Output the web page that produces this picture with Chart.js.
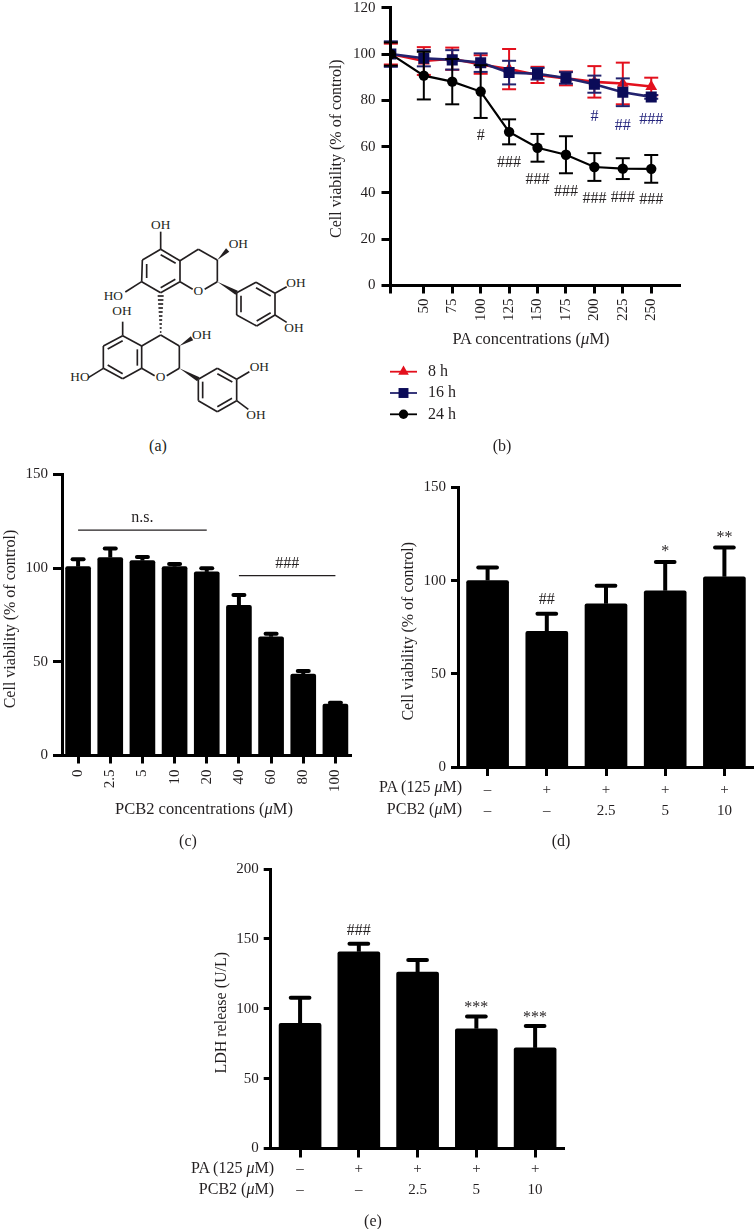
<!DOCTYPE html>
<html>
<head>
<meta charset="utf-8">
<script src="https://cdn.jsdelivr.net/npm/chart.js@4/dist/chart.umd.min.js"></script>
<style>
html,body{margin:0;padding:0;background:#fff;}
body{position:relative;width:754px;height:1229px;overflow:hidden;font-family:"Liberation Serif",serif;color:#231f20;}
canvas{position:absolute;}
.t{position:absolute;white-space:nowrap;font-size:16.5px;line-height:18px;transform:translate(-50%,-50%);}
.c{position:absolute;white-space:nowrap;font-size:16px;line-height:18px;transform:translate(-50%,-50%);}
.r{position:absolute;white-space:nowrap;font-size:16px;line-height:18px;transform:translate(-100%,-50%);}
svg{position:absolute;overflow:visible;}
svg line,svg polyline{stroke:#231f20;stroke-width:5;fill:none;}
svg polygon{fill:#231f20;}
svg text{font-family:"Liberation Serif",serif;font-size:40px;fill:#231f20;text-anchor:middle;dominant-baseline:middle;}
</style>
</head>
<body>
<svg id="structure" style="left:60px;top:190px" width="240" height="240" viewBox="0 0 720 720"></svg>

<canvas id="cb" style="left:320px;top:0px" width="434" height="440"></canvas>
<canvas id="cc" style="left:0px;top:460px" width="370" height="370"></canvas>
<canvas id="cd" style="left:380px;top:470px" width="374" height="370"></canvas>
<canvas id="ce" style="left:200px;top:850px" width="370" height="379"></canvas>

<div class="c" style="left:158px;top:446px">(a)</div>
<div class="t" style="left:531px;top:339px">PA concentrations (<i>μ</i>M)</div>
<div class="c" style="left:502px;top:446px">(b)</div>
<div class="t" style="left:204px;top:809px">PCB2 concentrations (<i>μ</i>M)</div>
<div class="c" style="left:188px;top:841px">(c)</div>
<div class="r" style="left:462px;top:787px">PA (125 <i>μ</i>M)</div>
<div class="r" style="left:462px;top:809px">PCB2 (<i>μ</i>M)</div>
<div class="c" style="left:561px;top:841px">(d)</div>
<div class="r" style="left:274px;top:1168px">PA (125 <i>μ</i>M)</div>
<div class="r" style="left:274px;top:1189px">PCB2 (<i>μ</i>M)</div>
<div class="c" style="left:373px;top:1221px">(e)</div>

<script>
// ---------- Panel b data ----------
const paDoses   = [21, 50, 75, 100, 125, 150, 175, 200, 225, 250];
const viab8h    = [100, 97, 98, 95.5, 93.5, 91, 89.5, 88, 87.3, 86];
const err8h     = [4.5, 6, 4.8, 4, 8.7, 3.5, 3, 6.8, 9, 3.8];
const viab16h   = [100, 98.2, 97.5, 96.3, 92, 91.5, 89.7, 87, 83.5, 81.5];
const err16h    = [5.5, 3.5, 4.2, 4, 5.1, 2.5, 2.5, 3.7, 6, 0.8];
const viab24h   = [100, 90.7, 88.1, 83.8, 66.4, 59.5, 56.5, 51.2, 50.5, 50.4];
const err24h    = [5, 10.3, 9.8, 11.4, 5.4, 6, 8, 6, 4.5, 6];
const marks24h  = ['', '', '', '#', '###', '###', '###', '###', '###', '###'];
const markY24h  = [0, 0, 0, 64.7, 53.2, 45.6, 40.5, 37.3, 37.9, 36.9];
const marks16h  = ['', '', '', '', '', '', '', '#', '##', '###'];
const markY16h  = [0, 0, 0, 0, 0, 0, 0, 73.1, 69.2, 71.4];

// ---------- Panel c data ----------
const pcbDoses  = ['0', '2.5', '5', '10', '20', '40', '60', '80', '100'];
const pcbViab   = [100.8, 105.7, 104, 100.8, 98, 80.1, 63.4, 43.4, 27.4];
const pcbTop    = [104.7, 110.5, 106, 102.2, 99.9, 85.7, 65, 45.1, 28.2];

// ---------- Panel d data ----------
const rowLabels = [['–', '–'], ['+', '–'], ['+', '2.5'], ['+', '5'], ['+', '10']];
const protViab  = [100.1, 72.8, 87.6, 94.6, 102.1];
const protTop   = [107.1, 82.2, 97.3, 110, 117.8];
const protMarks = ['', '##', '', '*', '**'];
const protMarkY = [0, 90, 0, 115.5, 123.2];

// ---------- Panel e data ----------
const ldhVals   = [89.5, 140.8, 126.3, 85.7, 72];
const ldhTop    = [107.9, 146.5, 134.8, 94.5, 87.6];
const ldhMarks  = ['', '###', '', '***', '***'];
const ldhMarkY  = [0, 156, 0, 100.8, 93.6];

// ---------- Styles ----------
const INK = '#231f20', BLACK = '#000000', RED = '#e3101d', NAVY = '#0b0b58', NAVYLINE = '#23236e', MARKNAVY = '#24247c';
const FONT = '"Liberation Serif", serif';
Chart.defaults.font.family = FONT;
Chart.defaults.color = INK;

// Error bars, drawn under each dataset's markers through the chart's scales
const errorBars = {
  id: 'errorBars',
  beforeDatasetDraw(chart, args) {
    const ds = chart.data.datasets[args.index];
    if (!ds.errStyle) return;
    const { x, y } = chart.scales, ctx = chart.ctx, s = ds.errStyle;
    ctx.save();
    ctx.strokeStyle = s.color; ctx.fillStyle = s.color;
    ds.data.forEach((d, i) => {
      const val = typeof d === 'object' ? d.y : d;
      const px = typeof d === 'object' ? x.getPixelForValue(d.x) : x.getPixelForValue(i);
      const hi = ds.errHigh ? ds.errHigh[i] : val + ds.errPlus[i];
      const lo = ds.errHigh ? val : val - ds.errPlus[i];
      const yHi = y.getPixelForValue(hi), yLo = y.getPixelForValue(lo);
      ctx.lineCap = 'butt'; ctx.lineWidth = s.stem;
      ctx.beginPath(); ctx.moveTo(px, yLo); ctx.lineTo(px, yHi); ctx.stroke();
      ctx.lineCap = s.round ? 'round' : 'butt'; ctx.lineWidth = s.capH;
      const w = s.capW / 2 - (s.round ? s.capH / 2 : 0);
      ctx.beginPath(); ctx.moveTo(px - w, yHi); ctx.lineTo(px + w, yHi); ctx.stroke();
      if (!ds.errHigh) { ctx.beginPath(); ctx.moveTo(px - w, yLo); ctx.lineTo(px + w, yLo); ctx.stroke(); }
    });
    ctx.restore();
  }
};

// Significance marks and brackets, placed in data coordinates
const notes = {
  id: 'notes',
  afterDatasetsDraw(chart, args, o) {
    const { x, y } = chart.scales, ctx = chart.ctx;
    ctx.save();
    ctx.textAlign = 'center'; ctx.textBaseline = 'middle';
    (o.texts || []).forEach(t => {
      ctx.fillStyle = t.color || INK;
      ctx.font = (t.size || 16) + 'px ' + FONT;
      ctx.fillText(t.text, x.getPixelForValue(t.x), y.getPixelForValue(t.y));
    });
    (o.rules || []).forEach(r => {
      ctx.strokeStyle = INK; ctx.lineWidth = 1.4;
      const py = y.getPixelForValue(r.y);
      ctx.beginPath(); ctx.moveTo(x.getPixelForValue(r.from), py); ctx.lineTo(x.getPixelForValue(r.to), py); ctx.stroke();
    });
    ctx.restore();
  }
};

// Legend for panel b: line sample + marker + name
const lineLegend = {
  id: 'lineLegend',
  afterDraw(chart, args, o) {
    if (!o.x) return;
    const ctx = chart.ctx;
    ctx.save();
    chart.data.datasets.forEach((ds, i) => {
      const py = o.y + i * o.step;
      ctx.strokeStyle = ds.borderColor; ctx.lineWidth = 1.8;
      ctx.beginPath(); ctx.moveTo(o.x, py); ctx.lineTo(o.x + 27, py); ctx.stroke();
      ctx.fillStyle = ds.pointBackgroundColor; ctx.strokeStyle = ds.pointBackgroundColor; ctx.lineWidth = 1;
      Chart.helpers.drawPoint(ctx, { pointStyle: ds.pointStyle, radius: ds.pointRadius * 0.9, rotation: 0, borderWidth: 0 }, o.x + 13.5, py);
      ctx.fillStyle = INK; ctx.font = '16px ' + FONT; ctx.textAlign = 'left'; ctx.textBaseline = 'middle';
      ctx.fillText(ds.label, o.x + 38, py);
    });
    ctx.restore();
  }
};

function axes(cfg) {
  const xScale = {
    type: cfg.xType || 'category',
    offset: cfg.xType ? false : true,
    border: { color: BLACK, width: cfg.lw, z: 2 },
    grid: { display: true, offset: false, drawOnChartArea: false, drawTicks: true, tickLength: cfg.xTick, tickWidth: cfg.lw, tickColor: BLACK },
    ticks: Object.assign({ color: INK, font: { size: 15, lineHeight: cfg.xLine || 1.2 }, padding: cfg.xPad, autoSkip: false, maxRotation: cfg.rot, minRotation: cfg.rot }, cfg.xTicks || {}),
    afterFit(s) { s.height = cfg.xH; s.paddingLeft = 0; s.paddingRight = 0; }
  };
  Object.assign(xScale, cfg.xExtra || {});
  return {
    x: xScale,
    y: {
      type: 'linear', min: 0, max: cfg.yMax,
      border: { color: BLACK, width: cfg.lw, z: 2 },
      grid: { display: true, drawOnChartArea: false, drawTicks: true, tickLength: cfg.yTick, tickWidth: cfg.lw, tickColor: BLACK },
      ticks: { color: INK, font: { size: 15 }, padding: cfg.yPad, stepSize: cfg.yStep, maxTicksLimit: 20 },
      title: { display: true, text: cfg.yTitle, color: INK, font: { size: 16 }, padding: { top: cfg.titleTop, bottom: 0 } },
      afterFit(s) { s.width = cfg.yW; s.paddingTop = 0; s.paddingBottom = 0; }
    }
  };
}

function base(cfg, plugins) {
  return {
    responsive: false, animation: false, devicePixelRatio: 1,
    events: [],
    layout: { padding: { left: 0, top: cfg.top, right: cfg.right, bottom: 0 } },
    scales: axes(cfg),
    plugins: Object.assign({ legend: { display: false }, tooltip: { enabled: false }, title: { display: false } }, plugins)
  };
}

// ---------- Panel b ----------
const pts = ys => paDoses.map((d, i) => ({ x: d, y: ys[i] }));
const lineSet = (label, ys, errs, color, markColor, style, radius, width) => ({
  label, data: pts(ys), errPlus: errs,
  errStyle: { color: markColor === NAVY ? NAVYLINE : color, stem: 2, capH: 2, capW: 14, round: false },
  borderColor: color, borderWidth: width, pointStyle: style, pointRadius: radius,
  pointBackgroundColor: markColor, pointBorderColor: markColor, pointBorderWidth: 0, tension: 0
});
new Chart(document.getElementById('cb'), {
  type: 'line',
  data: { datasets: [
    Object.assign(lineSet('8 h', viab8h, err8h, RED, RED, 'triangle', 6.8, 2.6), { order: 3 }),
    Object.assign(lineSet('16 h', viab16h, err16h, NAVYLINE, NAVY, 'rect', 7.8, 2.6), { order: 2 }),
    Object.assign(lineSet('24 h', viab24h, err24h, BLACK, BLACK, 'circle', 5.2, 2.2), { order: 1 })
  ] },
  options: base({
    xType: 'linear', lw: 3, xTick: 8, xPad: 5, xH: 154.5, rot: 90, yMax: 120, yStep: 20, yTick: 9, yPad: 6,
    yTitle: 'Cell viability (% of control) ', titleTop: 7, yW: 70.5, top: 5, right: 74,
    xExtra: {
      min: 20.7, max: 275.3,
      afterBuildTicks(s) { s.ticks = paDoses.map(v => ({ value: v })); }
    },
    xTicks: { callback: v => (v === paDoses[0] ? '' : String(v)) }
  }, {
    notes: { texts: [
      ...paDoses.map((d, i) => ({ x: d, y: markY24h[i], text: marks24h[i] })),
      ...paDoses.map((d, i) => ({ x: d, y: markY16h[i], text: marks16h[i], color: MARKNAVY }))
    ].filter(t => t.text) },
    lineLegend: { x: 70, y: 371.7, step: 21.3 }
  }),
  plugins: [errorBars, notes, lineLegend]
});

// ---------- Bars ----------
function barChart(id, labels, vals, tops, thick, capW, cfg, extra) {
  new Chart(document.getElementById(id), {
    type: 'bar',
    data: { labels, datasets: [{
      data: vals, errHigh: tops, backgroundColor: BLACK, barThickness: thick, borderRadius: 2, borderSkipped: 'bottom',
      errStyle: { color: BLACK, stem: 4, capH: 4, capW, round: true }
    }] },
    options: base(cfg, extra),
    plugins: [errorBars, notes]
  });
}

barChart('cc', pcbDoses, pcbViab, pcbTop, 25, 15, {
  lw: 3, xTick: 8, xPad: 6, xH: 74.5, rot: 90, yMax: 150, yStep: 50, yTick: 9, yPad: 5,
  yTitle: 'Cell viability (% of control)  ', titleTop: 1, yW: 62, top: 14.5, right: 18.5
}, {
  notes: {
    texts: [{ x: 2, y: 127, text: 'n.s.' }, { x: 6.5, y: 102.5, text: '###' }],
    rules: [{ from: 0, to: 4, y: 120.3 }, { from: 5, to: 8, y: 96 }]
  }
});

barChart('cd', rowLabels, protViab, protTop, 42, 22.7, {
  lw: 3, xTick: 9, xPad: 3, xH: 73, rot: 0, xLine: 1.42, yMax: 150, yStep: 50, yTick: 7, yPad: 5,
  yTitle: 'Cell viability (% of control)  ', titleTop: 19, yW: 78, top: 17.5, right: 0
}, {
  notes: { texts: rowLabels.map((l, i) => ({ x: i, y: protMarkY[i], text: protMarks[i] })).filter(t => t.text) }
});

barChart('ce', rowLabels, ldhVals, ldhTop, 42, 22.7, {
  lw: 3, xTick: 9, xPad: 1, xH: 80.5, rot: 0, xLine: 1.42, yMax: 200, yStep: 50, yTick: 7, yPad: 5,
  yTitle: 'LDH release (U/L)  ', titleTop: 12, yW: 70.7, top: 19, right: 5.5
}, {
  notes: { texts: rowLabels.map((l, i) => ({ x: i, y: ldhMarkY[i], text: ldhMarks[i] })).filter(t => t.text) }
});

// ---------- Panel a: chemical structure of procyanidin B2 ----------
const bondSegs = [
  // upper A ring
  [302,178,360,212],[360,212,360,275],[360,275,302,308],[302,308,245,275],[245,275,247,210],[247,210,302,178],
  [302,194,347,220],[346,268,302,293],[260,222,260,264],
  // upper pyran
  [360,212,415,178],[415,178,472,210],[472,210,472,275],[472,275,434,298],[398,298,360,275],
  // substituents
  [302,178,302,125],[245,275,196,306],
  // upper B ring
  [530,308,588,277],[588,277,645,310],[645,310,645,375],[645,375,590,408],[590,408,530,375],[530,375,530,308],
  [588,293,632,318],[632,368,590,393],[543,317,543,367],
  [645,310,680,290],[645,375,680,397],
  // lower A ring
  [188,437,245,468],[245,468,245,535],[245,535,188,566],[188,566,130,535],[130,535,130,468],[130,468,188,437],
  [188,452,143,477],[143,525,188,551],[232,478,232,527],
  // lower pyran
  [245,468,302,435],[302,435,358,468],[358,468,358,535],[358,535,320,557],[284,557,245,535],
  [188,437,188,395],[130,535,85,563],
  // lower B ring
  [415,568,472,535],[472,535,530,568],[530,568,530,632],[530,632,472,665],[472,665,415,632],[415,632,415,568],
  [472,551,517,576],[516,625,472,650],[428,575,428,625],
  [530,568,568,545],[530,632,565,658]
];
const wedges = [
  [472,210,503,180],[472,275,530,308],[358,468,396,445],[358,535,415,568]
];
const atomLabels = [
  ['OH',302,108],['OH',535,165],['O',415,306],['HO',160,322],['OH',708,282],['OH',702,417],
  ['OH',186,367],['OH',425,438],['O',302,565],['HO',60,565],['OH',598,535],['OH',588,678]
];
(function drawStructure() {
  const svg = document.getElementById('structure'), NS = 'http://www.w3.org/2000/svg';
  const add = (tag, attrs, txt) => { const e = document.createElementNS(NS, tag); for (const k in attrs) e.setAttribute(k, attrs[k]); if (txt) e.textContent = txt; svg.appendChild(e); };
  bondSegs.forEach(b => add('line', { x1: b[0], y1: b[1], x2: b[2], y2: b[3] }));
  wedges.forEach(w => {
    const dx = w[2] - w[0], dy = w[3] - w[1], L = Math.hypot(dx, dy), nx = -dy / L * 7, ny = dx / L * 7;
    add('polygon', { points: `${w[0]},${w[1]} ${w[2] + nx},${w[3] + ny} ${w[2] - nx},${w[3] - ny}` });
  });
  const hashY = [318, 330, 342, 354, 366, 378, 390, 402, 414, 426];
  hashY.forEach((y, i) => add('line', { x1: 302 - (9 - i * 0.75), y1: y, x2: 302 + (9 - i * 0.75), y2: y, 'stroke-width': 4 }));
  atomLabels.forEach(a => add('text', { x: a[1], y: a[2] }, a[0]));
})();
</script>
</body>
</html>
